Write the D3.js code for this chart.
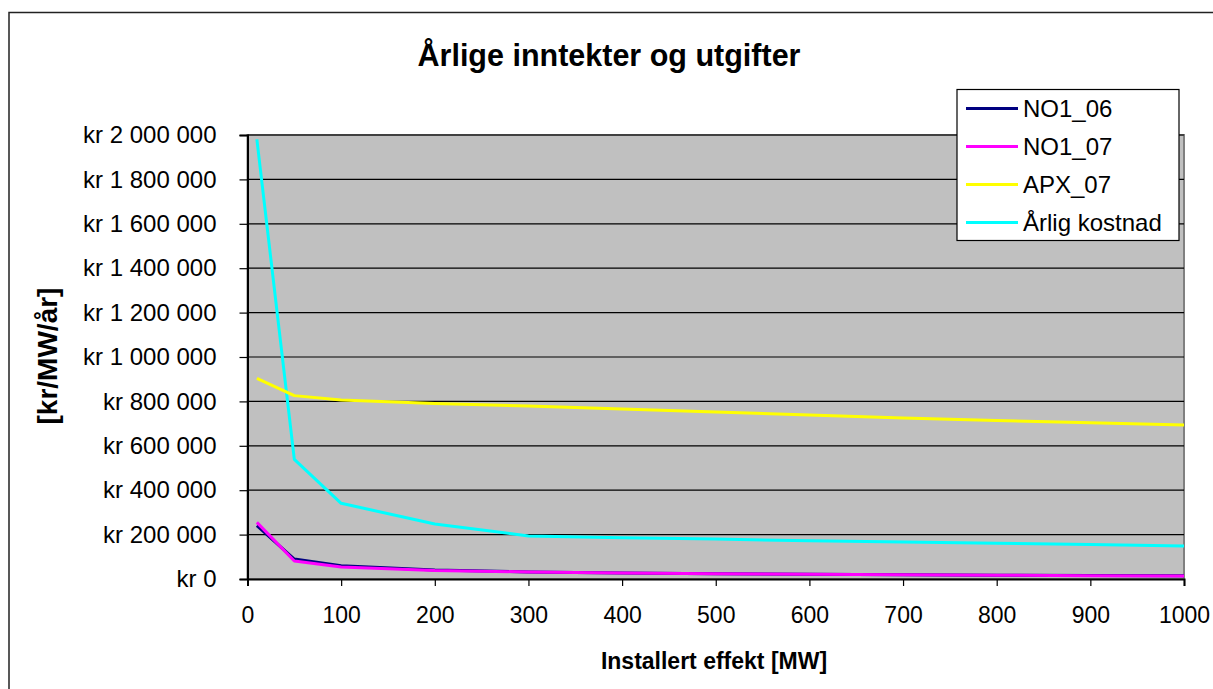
<!DOCTYPE html>
<html><head><meta charset="utf-8">
<script src="https://cdn.jsdelivr.net/npm/d3@7"></script>
<style>body{margin:0;background:#fff}svg{display:block;font-family:"Liberation Sans",Arial,sans-serif}</style>
</head><body>
<svg id="c" width="1213" height="689"></svg>
<script>
const xValues = [10, 50, 100, 200, 300, 400, 500, 600, 700, 800, 900, 1000];
const no1_06 = [240000, 90000, 60000, 40000, 32000, 27000, 24000, 21000, 19000, 17000, 16000, 15000];
const no1_07 = [255000, 81000, 54000, 38000, 32000, 27000, 24000, 21000, 19000, 17000, 15000, 14000];
const apx_07 = [904000, 826000, 806000, 791000, 779000, 766000, 752000, 739000, 725000, 714000, 704000, 694000];
const arligKostnad = [1980000, 539000, 341000, 248000, 194000, 186000, 180000, 172000, 167000, 161000, 155000, 149000];
const seriesNames = ["NO1_06", "NO1_07", "APX_07", "Årlig kostnad"];
const seriesColors = ["#000080", "#FF00FF", "#FFFF00", "#00FFFF"];
const yTicks = [0, 200000, 400000, 600000, 800000, 1000000, 1200000, 1400000, 1600000, 1800000, 2000000];
const xTicks = [0, 100, 200, 300, 400, 500, 600, 700, 800, 900, 1000];
const title = "Årlige inntekter og utgifter";
const xTitle = "Installert effekt [MW]";
const yTitle = "[kr/MW/år]";

const svg = d3.select("#c");
const L = 247.5, R = 1184, T = 135, B = 579;
const x = d3.scaleLinear().domain([0, 1000]).range([L, R]);
const y = d3.scaleLinear().domain([0, 2000000]).range([B, T]);

// outer chart border
svg.append("rect").attr("x", 9).attr("y", 12.5).attr("width", 1300).attr("height", 800)
  .attr("fill", "#fff").attr("stroke", "#222").attr("stroke-width", 1.5);

// plot background
svg.append("rect").attr("x", L).attr("y", T).attr("width", R - L).attr("height", B - T)
  .attr("fill", "#C0C0C0").attr("stroke", "#808080").attr("stroke-width", 2);

// gridlines
svg.append("g").selectAll("line").data(yTicks.filter(d => d > 0)).join("line")
  .attr("x1", L).attr("x2", R).attr("y1", d => y(d)).attr("y2", d => y(d))
  .attr("stroke", "#000").attr("stroke-width", 1.2);

const fmt = v => "kr " + d3.format(",")(v).replace(/,/g, " ");

// y axis
const ya = svg.append("g").attr("transform", `translate(${L},0)`)
  .call(d3.axisLeft(y).tickValues(yTicks).tickFormat(fmt).tickSize(8).tickPadding(23));
ya.select(".domain").attr("stroke", "#000").attr("stroke-width", 2);
ya.selectAll(".tick line").attr("stroke", "#000").attr("stroke-width", 1.2);
ya.selectAll("text").attr("font-size", 24).attr("fill", "#000").attr("font-family", "Liberation Sans, Arial, sans-serif");

// x axis
const xa = svg.append("g").attr("transform", `translate(0,${B})`)
  .call(d3.axisBottom(x).tickValues(xTicks).tickFormat(d3.format("d")).tickSize(7).tickPadding(21));
xa.select(".domain").attr("stroke", "#000").attr("stroke-width", 2);
xa.selectAll(".tick line").attr("stroke", "#000").attr("stroke-width", 1.2);
xa.selectAll("text").attr("font-size", 23).attr("fill", "#000").attr("font-family", "Liberation Sans, Arial, sans-serif");

// lines
const data = [no1_06, no1_07, apx_07, arligKostnad];
const line = d3.line().x((d, i) => x(xValues[i])).y(d => y(d));
const order = [3, 2, 0, 1];
order.forEach(k => {
  svg.append("path").datum(data[k]).attr("d", line).attr("fill", "none")
    .attr("stroke", seriesColors[k]).attr("stroke-width", 3).attr("stroke-linejoin", "round");
});

// titles
svg.append("text").attr("x", 609).attr("y", 66).attr("text-anchor", "middle")
  .attr("font-size", 30.5).attr("font-weight", "bold").text(title);
svg.append("text").attr("x", 714).attr("y", 669).attr("text-anchor", "middle")
  .attr("font-size", 23).attr("font-weight", "bold").text(xTitle);
svg.append("text").attr("transform", "translate(57,356) rotate(-90)").attr("text-anchor", "middle")
  .attr("font-size", 28).attr("font-weight", "bold").text(yTitle);

// legend
const lg = svg.append("g");
lg.append("rect").attr("x", 957).attr("y", 89.5).attr("width", 222).attr("height", 151)
  .attr("fill", "#fff").attr("stroke", "#000").attr("stroke-width", 1.2);
seriesNames.forEach((n, i) => {
  const yy = 108.5 + i * 38;
  lg.append("line").attr("x1", 966).attr("x2", 1018).attr("y1", yy).attr("y2", yy)
    .attr("stroke", seriesColors[i]).attr("stroke-width", 3);
  lg.append("text").attr("x", 1023).attr("y", yy + 8.5).attr("font-size", 24).text(n);
});
</script>
</body></html>
